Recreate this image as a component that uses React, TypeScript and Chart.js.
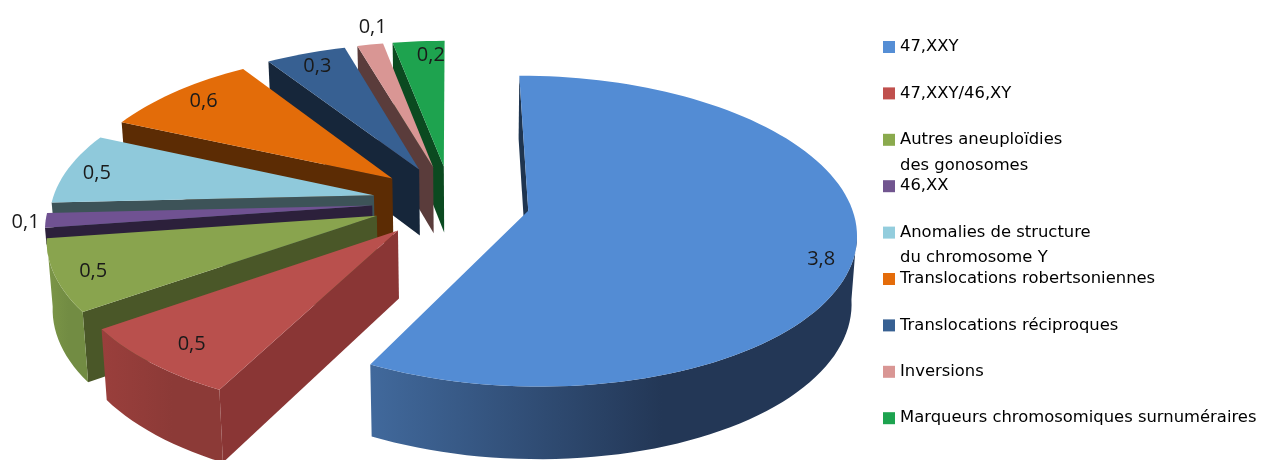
import React, { useEffect, useRef } from "react";
import { Chart, registerables } from "chart.js";

Chart.register(...registerables);

// Data
const categories = [
  "47,XXY",
  "47,XXY/46,XY",
  "Autres aneuploïdies\ndes gonosomes",
  "46,XX",
  "Anomalies de structure\ndu chromosome Y",
  "Translocations robertsoniennes",
  "Translocations réciproques",
  "Inversions",
  "Marqueurs chromosomiques surnuméraires",
];
const values = [3.84, 0.51, 0.5, 0.1, 0.5, 0.61, 0.31, 0.1, 0.2];

// Styles
const topColors = ["#538cd4", "#b9504d", "#89a44e", "#705292", "#8fc9db", "#e36c09", "#376092", "#d99694", "#1ea34f"];
const legendColors = ["#558ed5", "#c0504d", "#8aaa4d", "#71558f", "#93cddd", "#e46c0a", "#376092", "#d99694", "#1da34f"];
const faceColors = ["#1f3550", "#8a3635", "#4a5728", "#2c203b", "#3d5358", "#5c2c04", "#16263a", "#5a3c3b", "#0b4a20"];
const sideFrom = ["#41699c", "#9a3f3c", "#7c9648", "#705292", "#8fc9db", "#e36c09", "#376092", "#d99694", "#1ea34f"];
const sideTo = ["#233756", "#8c3a37", "#728c43", "#5a4275", "#70a0b0", "#b05408", "#2a4a70", "#b07a78", "#178040"];
const faceDepth = [1, 1, 1, 0.25, 1, 1, 1, 1, 1];
const labelRadius = [0.91, 0.86, 0.89, 1.06, 0.9, 0.87, 0.88, 1.15, 0.87];
const labelShiftDeg = [6, -0.7, -1, -0.5, -1, 0.5, -0.2, 2, 2.2];

// Projection of the pie plane into a tilted, perspective view
const VIEW = { x0: 451, y0: 202, a: 322, b: 150.5, k: 0.13 };
const DEPTH = { base: 67, grow: 0.03, vanishX: 470, pull: 0.014, refY: 200 };
const PIE_RADIUS = 160;
const EXPLODE = 39.2;

type P = [number, number];
const project = (U: number, V: number): P => {
  const s = 1 / (1 - VIEW.k * V);
  return [VIEW.x0 + VIEW.a * U * s, VIEW.y0 + VIEW.b * V * s];
};
const lower = ([x, y]: P, f = 1): P => [
  x + (DEPTH.vanishX - x) * DEPTH.pull * f,
  y + (DEPTH.base + (y - DEPTH.refY) * DEPTH.grow) * f,
];

const fillPoly = (ctx: CanvasRenderingContext2D, pts: P[], fill: string | CanvasGradient) => {
  ctx.beginPath();
  pts.forEach(([x, y], i) => (i ? ctx.lineTo(x, y) : ctx.moveTo(x, y)));
  ctx.closePath();
  ctx.fillStyle = fill;
  ctx.fill();
};

const pie3d = {
  id: "pie3d",
  beforeDatasetDraw(chart: any) {
    const ctx: CanvasRenderingContext2D = chart.ctx;
    const arcs = chart.getDatasetMeta(0).data;
    const order = [8, 7, 6, 5, 4, 3, 2, 1, 0];
    const geo = (arc: any) => {
      const mid = (arc.startAngle + arc.endAngle) / 2;
      const e = arc.options.offset / arc.outerRadius;
      return { cu: Math.cos(mid) * e, cv: Math.sin(mid) * e, mid };
    };
    for (const i of order) {
      const arc = arcs[i];
      const { cu, cv } = geo(arc);
      const apex = project(cu, cv);
      const rim: P[] = [];
      const front: P[] = [];
      const n = Math.max(4, Math.ceil(((arc.endAngle - arc.startAngle) * 180) / Math.PI / 2));
      for (let j = 0; j <= n; j++) {
        const t = arc.startAngle + ((arc.endAngle - arc.startAngle) * j) / n;
        const p = project(cu + Math.cos(t), cv + Math.sin(t));
        rim.push(p);
        if (Math.sin(t) >= 0.12) front.push(p);
      }
      // visible radial face (the clockwise-leading cut)
      const f = faceDepth[i];
      fillPoly(ctx, [apex, rim[0], lower(rim[0], f), lower(apex, f)], faceColors[i]);
      // outer curved wall, only where it faces the viewer
      if (front.length > 1) {
        const xs = front.map((p) => p[0]);
        const g = ctx.createLinearGradient(Math.min(...xs), 0, Math.max(...xs), 0);
        g.addColorStop(0, sideFrom[i]);
        g.addColorStop(0.6, sideTo[i]);
        g.addColorStop(1, sideTo[i]);
        fillPoly(ctx, [...front, ...front.map((p) => lower(p)).reverse()], g);
      }
      // top
      fillPoly(ctx, [apex, ...rim], topColors[i]);
    }
    // value labels
    ctx.font = '20px "Open Sans"';
    ctx.fillStyle = "#1a1a1a";
    ctx.textAlign = "center";
    ctx.textBaseline = "middle";
    arcs.forEach((arc: any, i: number) => {
      const { cu, cv, mid } = geo(arc);
      const t = mid + (labelShiftDeg[i] * Math.PI) / 180;
      const [x, y] = project(cu + Math.cos(t) * labelRadius[i], cv + Math.sin(t) * labelRadius[i]);
      ctx.fillText(values[i].toFixed(1).replace(".", ","), x, y);
    });
    return false;
  },
  afterDraw(chart: any) {
    const ctx: CanvasRenderingContext2D = chart.ctx;
    ctx.save();
    ctx.font = '16.4px "DejaVu Sans"';
    ctx.textAlign = "left";
    ctx.textBaseline = "middle";
    chart.data.labels.forEach((label: string, i: number) => {
      const y = 47 + i * 46.4;
      ctx.fillStyle = legendColors[i];
      ctx.fillRect(883, y - 6, 12, 12);
      ctx.fillStyle = "#000";
      label.split("\n").forEach((line, j) => ctx.fillText(line, 900, y + j * 25.5));
    });
    ctx.restore();
  },
};

export default function App() {
  const ref = useRef<HTMLCanvasElement>(null);
  useEffect(() => {
    document.body.style.margin = "0";
    const chart = new Chart(ref.current!, {
      type: "pie",
      data: {
        labels: categories,
        datasets: [
          {
            data: values,
            backgroundColor: topColors,
            borderWidth: 0,
            offset: EXPLODE,
            radius: PIE_RADIUS,
          } as any,
        ],
      },
      options: {
        responsive: false,
        animation: false,
        plugins: { legend: { display: false }, tooltip: { enabled: false } },
      },
      plugins: [pie3d as any],
    });
    return () => chart.destroy();
  }, []);
  return <canvas ref={ref} width={1271} height={460} style={{ display: "block" }} />;
}
